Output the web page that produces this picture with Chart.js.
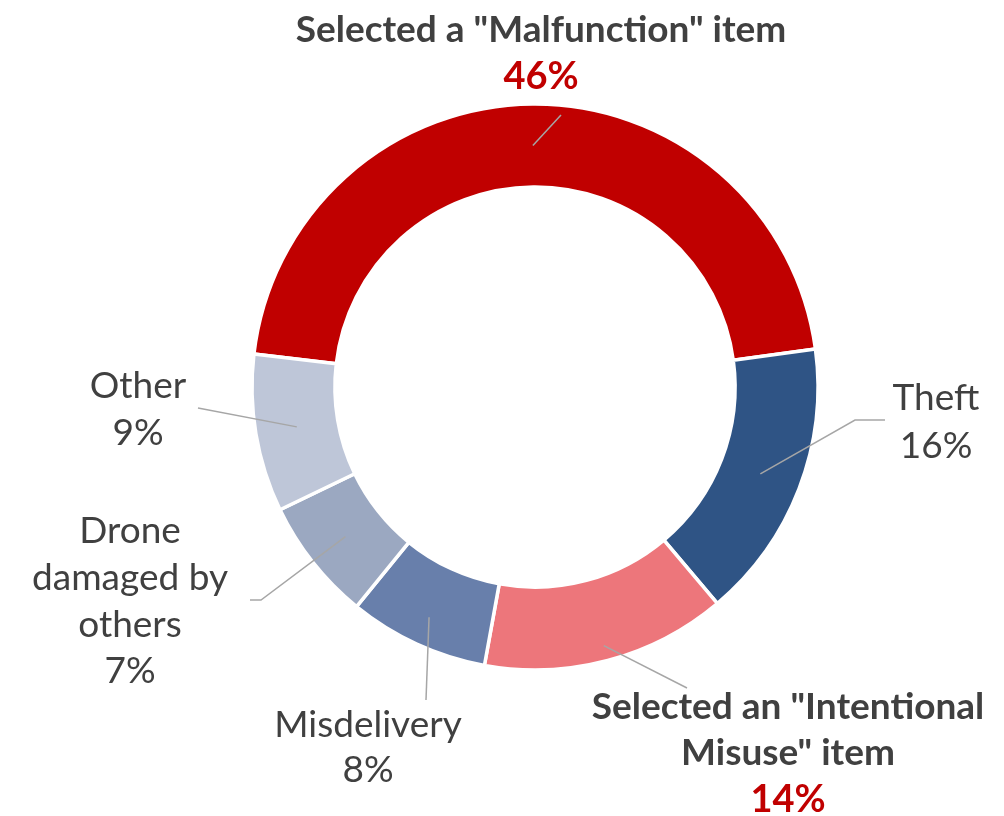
<!DOCTYPE html>
<html><head><meta charset="utf-8">
<script src="https://cdn.jsdelivr.net/npm/chart.js@4/dist/chart.umd.min.js"></script>
<style>html,body{margin:0;padding:0;background:#fff}#wrap{width:1004px;height:816px;position:relative}</style>
</head><body><div id="wrap"><canvas id="c" width="1004" height="816"></canvas></div>
<script>
const categories = ['Selected a "Malfunction" item', 'Theft', 'Selected an "Intentional Misuse" item', 'Misdelivery', 'Drone damaged by others', 'Other'];
const shares = [46, 16, 14, 8, 7, 9];
const percentLabels = ['46%', '16%', '14%', '8%', '7%', '9%'];
const labelLines = [['Selected a "Malfunction" item'], ['Theft'], ['Selected an "Intentional', 'Misuse" item'], ['Misdelivery'], ['Drone', 'damaged by', 'others'], ['Other']];
const highlighted = [true, false, true, false, false, false];
const colors = ['#C00000', '#2F5485', '#ED767B', '#687FAB', '#9BA8C1', '#BEC6D8'];

// label layout (text centre x, baselines, leader elbow points)
const layoutInfo = [
  {cx: 541, base: [42, 89], pts: [[561, 115]], rOff: 0},
  {cx: 936, base: [410, 458], pts: [[855, 420], [885, 420]], rOff: 0},
  {cx: 788, base: [719, 765, 812], pts: [[687, 688]], rOff: 26},
  {cx: 368, base: [737, 782], pts: [[426, 700]], rOff: 12},
  {cx: 130, base: [543, 590, 637, 683], pts: [[261, 600], [250, 600]], rOff: 0},
  {cx: 138, base: [398, 445], pts: [[198, 408]], rOff: 0}
];

const FONT = 'Lato, "Open Sans", sans-serif';
const labelPlugin = {
  id: 'outLabels',
  afterDraw(chart) {
    const ctx = chart.ctx;
    const meta = chart.getDatasetMeta(0);
    ctx.save();
    meta.data.forEach((el, i) => {
      const p = el.getProps(['x', 'y', 'startAngle', 'endAngle', 'innerRadius', 'outerRadius'], true);
      const L = layoutInfo[i];
      const mid = (p.startAngle + p.endAngle) / 2;
      const r = (p.innerRadius + p.outerRadius) / 2 + L.rOff;
      ctx.beginPath();
      ctx.moveTo(p.x + Math.cos(mid) * r, p.y + Math.sin(mid) * r);
      L.pts.forEach(q => ctx.lineTo(q[0], q[1]));
      ctx.strokeStyle = '#A6A6A6';
      ctx.lineWidth = 1.5;
      ctx.stroke();
      ctx.textAlign = 'center';
      ctx.textBaseline = 'alphabetic';
      const lines = labelLines[i];
      const bold = highlighted[i];
      lines.forEach((t, k) => {
        ctx.font = (bold ? 'bold 37px ' : '37px ') + FONT;
        ctx.fillStyle = '#404040';
        ctx.fillText(t, L.cx, L.base[k]);
      });
      ctx.font = (bold ? 'bold 38px ' : '37px ') + FONT;
      ctx.fillStyle = bold ? '#C00000' : '#404040';
      ctx.fillText(percentLabels[i], L.cx, L.base[lines.length]);
    });
    ctx.restore();
  }
};

new Chart(document.getElementById('c'), {
  type: 'doughnut',
  data: {
    labels: categories,
    datasets: [{
      data: shares,
      backgroundColor: colors,
      borderColor: '#ffffff',
      borderWidth: 3.5,
      hoverOffset: 0
    }]
  },
  options: {
    responsive: false,
    animation: false,
    rotation: -83.3,
    radius: 283,
    cutout: '70.7%',
    layout: {padding: {left: 66, right: 0, top: 0, bottom: 42}},
    plugins: {legend: {display: false}, tooltip: {enabled: false}}
  },
  plugins: [labelPlugin]
});
</script>
</body></html>
